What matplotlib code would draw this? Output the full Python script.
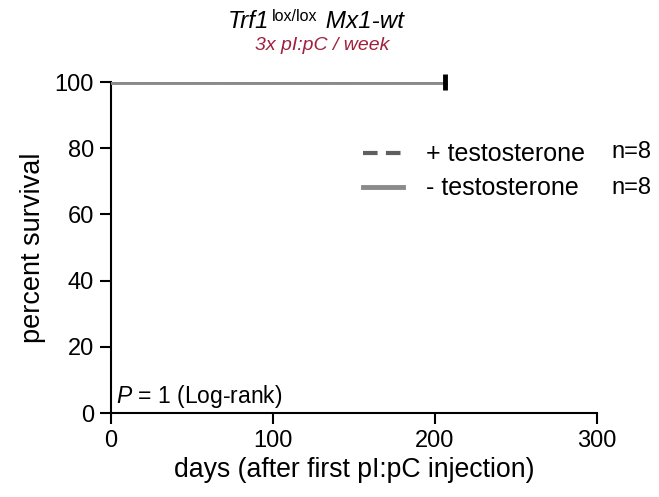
import matplotlib
matplotlib.use("Agg")
import matplotlib.pyplot as plt
from matplotlib.lines import Line2D
from matplotlib.transforms import offset_copy

plt.rcParams["font.family"] = ["Liberation Sans", "DejaVu Sans"]
plt.rcParams["mathtext.fontset"] = "custom"
plt.rcParams["mathtext.rm"] = "Liberation Sans"
plt.rcParams["mathtext.it"] = "Liberation Sans:italic"

# survival data
days_plus = [0, 206]
surv_plus = [100, 100]
days_minus = [0, 206]
surv_minus = [100, 100]
censor_days = [206]
censor_surv = [100]

labels = ["+ testosterone", "- testosterone"]
n_labels = ["n=8", "n=8"]
x_ticks = [0, 100, 200, 300]
y_ticks = [0, 20, 40, 60, 80, 100]

fig = plt.figure(figsize=(6.59, 4.97), dpi=100)
ax = fig.add_axes([0.168, 0.169, 0.738, 0.666])

ax.step(days_plus, surv_plus, where="post", color="#5f5f5f", lw=2.5,
        dashes=(4, 2.5), zorder=2)
ax.step(days_minus, surv_minus, where="post", color="#8a8a8a", lw=3.5, zorder=3)
ax.plot(censor_days, censor_surv, marker="|", ms=11, mew=3.5, color="black",
        ls="none", zorder=4, clip_on=False)

ax.set_xlim(0, 300)
ax.set_ylim(0, 100)
ax.set_xticks(x_ticks)
ax.set_yticks(y_ticks)
ax.tick_params(labelsize=17, width=1.5, length=8, direction="out", pad=4)
for s in ["top", "right"]:
    ax.spines[s].set_visible(False)
for s in ["left", "bottom"]:
    ax.spines[s].set_linewidth(1.5)
ax.set_xlabel("days (after first pI:pC injection)", fontsize=19.2, labelpad=4)
ax.set_ylabel("percent survival", fontsize=19.5, labelpad=6)

handles = [
    Line2D([0], [0], color="#5f5f5f", lw=3, dashes=(3.5, 2)),
    Line2D([0], [0], color="#8a8a8a", lw=3.5),
]
leg = fig.legend(handles, labels, loc="center left",
                 bbox_to_anchor=(0.551, 0.655), frameon=False, fontsize=18,
                 handlelength=1.6, handletextpad=0.9, labelspacing=0.4,
                 borderpad=0, borderaxespad=0)
for i, t in enumerate(n_labels):
    fig.text(0.928, 0.694 - i * 0.072, t, fontsize=17, ha="left", va="center")

ax.text(0.011, 0.008, "$\\mathit{P}$ = 1 (Log-rank)", transform=ax.transAxes,
        fontsize=16.5, ha="left", va="bottom")

# title built from pieces so every part keeps its own style
renderer = fig.canvas.get_renderer()
pieces = [("Trf1", 17.5, "italic", 0), ("lox/lox", 11.5, "normal", 7),
          (" Mx1-wt", 17.5, "italic", 0)]
x0, y0 = 228 / 659, 1 - 28 / 497
trans = fig.transFigure
dx = 0
for s, size, style, rise in pieces:
    t = fig.text(x0, y0, s, fontsize=size, style=style, ha="left",
                 va="baseline",
                 transform=offset_copy(trans, fig=fig, x=dx, y=rise,
                                       units="dots"))
    dx += t.get_window_extent(renderer).width + 2
fig.text(0.489, 0.908, "3x pI:pC / week", fontsize=14, style="italic",
         color="#a0203c", ha="center", va="center")

fig.savefig("out.png", dpi=100)
